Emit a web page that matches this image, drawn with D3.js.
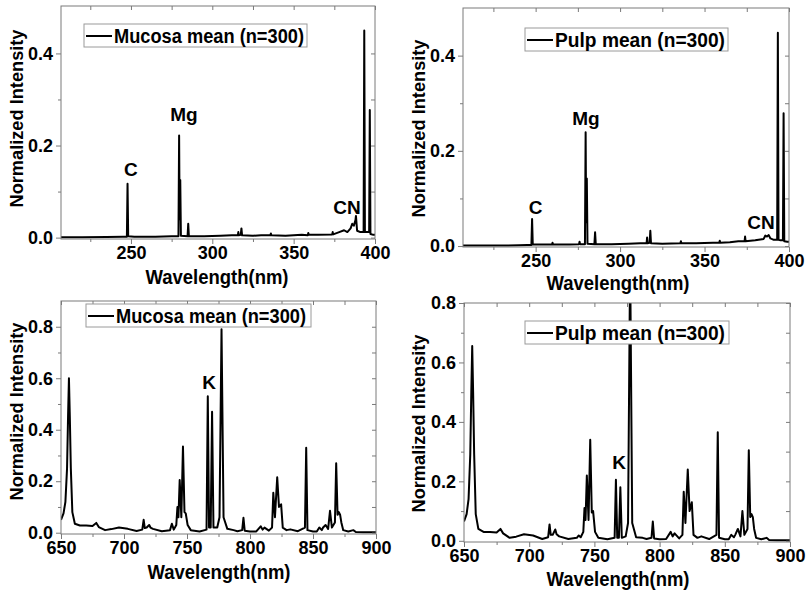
<!DOCTYPE html>
<html>
<head>
<meta charset="utf-8">
<script src="https://cdn.jsdelivr.net/npm/d3@7/dist/d3.min.js"></script>
<style>
  body { margin: 0; background: #fff; }
  svg { display: block; font-family: "Liberation Sans", Arial, sans-serif; font-weight: bold; }
</style>
</head>
<body>
<svg id="chart" width="808" height="590"></svg>
<script>
// ---- data ----
const mucosaUvWl = [207, 220, 235, 245, 247.5, 247.9, 248.3, 252, 265, 275, 279.2, 279.6, 279.9, 280.3, 280.7, 284.8, 285.2, 285.6,
  295, 305, 312, 315.7, 316, 316.3, 317.5, 317.9, 318.3, 325, 330, 335.7, 336, 336.3, 345, 355, 358.7, 359, 359.3, 365,
  373.7, 374, 374.3, 378, 381, 383, 385, 386, 387, 388, 388.3, 389, 391, 393, 393.4, 393.8, 395, 396.4, 396.8, 397.2, 399, 400];
const mucosaUvInt = [0.001, 0.001, 0.0015, 0.002, 0.002, 0.117, 0.003, 0.002, 0.002, 0.003, 0.003, 0.222, 0.04, 0.125, 0.004, 0.003, 0.03, 0.003,
  0.003, 0.004, 0.005, 0.005, 0.012, 0.005, 0.006, 0.02, 0.005, 0.004, 0.005, 0.005, 0.009, 0.005, 0.004, 0.006, 0.005, 0.01, 0.006, 0.006,
  0.007, 0.012, 0.007, 0.012, 0.016, 0.012, 0.02, 0.03, 0.026, 0.038, 0.047, 0.015, 0.012, 0.012, 0.45, 0.012, 0.012, 0.012, 0.277, 0.008, 0.006, 0.006];

const pulpUvWl = [207, 225, 240, 245, 247.5, 247.9, 248.3, 255, 259.7, 260, 260.3, 270, 275.7, 276, 276.3, 279.2, 279.6, 279.9, 280.3, 280.7,
  284.8, 285.2, 285.6, 295, 305, 312, 315.7, 316, 316.3, 317.5, 317.9, 318.3, 325, 335.7, 336, 336.3, 345, 355, 358.7, 359, 359.3, 365,
  370, 373.7, 374, 374.3, 380, 385, 386, 387, 388, 389, 391, 393, 393.4, 393.8, 395, 396.4, 396.8, 397.2, 399, 400];
const pulpUvInt = [0.001, 0.001, 0.0015, 0.002, 0.002, 0.057, 0.003, 0.003, 0.003, 0.007, 0.003, 0.003, 0.004, 0.009, 0.004, 0.004, 0.239, 0.05, 0.142, 0.005,
  0.004, 0.029, 0.004, 0.004, 0.005, 0.006, 0.006, 0.018, 0.006, 0.007, 0.032, 0.006, 0.005, 0.006, 0.01, 0.006, 0.006, 0.007, 0.007, 0.011, 0.007, 0.008,
  0.01, 0.01, 0.02, 0.01, 0.012, 0.015, 0.022, 0.02, 0.023, 0.016, 0.013, 0.013, 0.448, 0.013, 0.012, 0.012, 0.279, 0.01, 0.009, 0.009];

const mucosaVisWl = [650, 652, 653.5, 654.8, 655.6, 656.3, 657, 657.8, 659, 661, 665, 670, 675, 678, 680, 685, 690, 696, 703, 710,
  714.5, 715.6, 716.5, 718, 720, 721, 723, 730, 736.5, 738, 739.5, 741.5, 742.4, 743.2, 744.2, 745.5, 746.8, 748, 749, 750.5, 753,
  760, 765.5, 766.5, 767.5, 768.8, 769.9, 771, 774, 775.8, 777.4, 779, 782, 787, 790, 793.8, 794.8, 795.8, 800, 805, 808.5, 810, 811.5, 815,
  817.5, 818.5, 819.8, 821.6, 823, 824.7, 826, 829, 832, 838, 843.6, 844.6, 845.6, 850, 853, 855, 857, 858, 860, 862, 863.5, 865,
  867.4, 868.4, 869.5, 870.5, 871.5, 872.5, 874, 878, 882, 884, 890, 900];
const mucosaVisInt = [0.05, 0.075, 0.12, 0.25, 0.45, 0.6, 0.45, 0.25, 0.08, 0.035, 0.028, 0.028, 0.026, 0.038, 0.022, 0.01, 0.014, 0.02, 0.015, 0.007,
  0.012, 0.05, 0.018, 0.02, 0.03, 0.02, 0.015, 0.006, 0.01, 0.035, 0.012, 0.03, 0.1, 0.06, 0.205, 0.06, 0.335, 0.08, 0.075, 0.03, 0.01,
  0.005, 0.012, 0.53, 0.02, 0.02, 0.47, 0.02, 0.02, 0.06, 0.79, 0.06, 0.015, 0.01, 0.006, 0.01, 0.058, 0.008, 0.005, 0.005, 0.025, 0.012, 0.02, 0.008,
  0.02, 0.155, 0.06, 0.215, 0.1, 0.11, 0.02, 0.01, 0.013, 0.006, 0.02, 0.33, 0.01, 0.005, 0.005, 0.02, 0.01, 0.02, 0.03, 0.015, 0.085, 0.02,
  0.04, 0.27, 0.07, 0.08, 0.07, 0.04, 0.01, 0.005, 0.01, 0.003, 0.002, 0.002];

const pulpVisWl = [650, 652, 653.5, 654.8, 655.6, 656.3, 657, 657.8, 659, 661, 665, 670, 675, 678, 680, 685, 690, 696, 703, 710,
  714.5, 715.6, 716.5, 718, 720, 721, 723, 730, 736.5, 738, 739.5, 741.5, 742.4, 743.2, 744.2, 745.5, 746.8, 748, 749, 750.5, 753,
  760, 765.5, 766.5, 767.5, 768.8, 769.9, 771, 774, 775.8, 777.4, 779, 782, 787, 790, 793.8, 794.8, 795.8, 800, 805, 808.5, 810, 811.5, 815,
  817.5, 818.5, 819.8, 821.6, 823, 824.7, 826, 829, 832, 838, 843.6, 844.6, 845.6, 850, 853, 855, 857, 858, 860, 862, 863.5, 865,
  867.4, 868.4, 869.5, 870.5, 871.5, 872.5, 874, 878, 882, 884, 890, 900];
const pulpVisInt = [0.065, 0.09, 0.14, 0.29, 0.5, 0.655, 0.5, 0.29, 0.09, 0.04, 0.03, 0.03, 0.028, 0.04, 0.025, 0.01, 0.014, 0.022, 0.018, 0.006,
  0.012, 0.055, 0.02, 0.02, 0.038, 0.022, 0.015, 0.006, 0.01, 0.018, 0.012, 0.03, 0.11, 0.07, 0.22, 0.07, 0.34, 0.095, 0.1, 0.03, 0.01,
  0.005, 0.01, 0.205, 0.01, 0.01, 0.18, 0.01, 0.015, 0.06, 0.95, 0.06, 0.012, 0.01, 0.006, 0.01, 0.065, 0.008, 0.005, 0.006, 0.03, 0.015, 0.025, 0.008,
  0.02, 0.165, 0.06, 0.24, 0.1, 0.13, 0.02, 0.01, 0.015, 0.006, 0.02, 0.365, 0.01, 0.005, 0.005, 0.02, 0.012, 0.02, 0.04, 0.015, 0.1, 0.02,
  0.04, 0.305, 0.08, 0.09, 0.08, 0.04, 0.01, 0.005, 0.01, 0.003, 0.002, 0.002];

const uvTicks = [250, 300, 350, 400];
const uvMinor = [225, 275, 325, 375];
const visTicks = [650, 700, 750, 800, 850, 900];
const visMinor = [675, 725, 775, 825, 875];
const uvYTicks = [0.0, 0.2, 0.4];
const uvYMinor = [0.1, 0.3];
const visYTicks = [0.0, 0.2, 0.4, 0.6, 0.8];
const visYMinor = [0.1, 0.3, 0.5, 0.7];

const legendLabels = ["Mucosa mean (n=300)", "Pulp mean (n=300)", "Mucosa mean (n=300)", "Pulp mean (n=300)"];
const uvMucosaNotes = [["C", 250, 0.134], ["Mg", 282.6, 0.253], ["CN", 382.8, 0.051]];
const uvPulpNotes = [["C", 250, 0.067], ["Mg", 279.8, 0.255], ["CN", 383.4, 0.036]];
const visMucosaNotes = [["K", 767.5, 0.56]];
const visPulpNotes = [["K", 768.9, 0.242]];

// ---- layout ----
const panels = [
  { wl: mucosaUvWl, val: mucosaUvInt, l: 61, r: 375, t: 6, b: 239, xd: [207, 400], yd: [-0.003, 0.503],
    xt: uvTicks, xm: uvMinor, yt: uvYTicks, ym: uvYMinor, notes: uvMucosaNotes, legend: legendLabels[0],
    lg: [84, 24, 223, 190], xlab: [217, 284], ylab: [17, 118.5] },
  { wl: pulpUvWl, val: pulpUvInt, l: 463, r: 789, t: 8, b: 247, xd: [207, 400], yd: [-0.002, 0.5],
    xt: uvTicks, xm: uvMinor, yt: uvYTicks, ym: uvYMinor, notes: uvPulpNotes, legend: legendLabels[1],
    lg: [525, 28, 203, 170], xlab: [618, 290], ylab: [419, 128.5] },
  { wl: mucosaVisWl, val: mucosaVisInt, l: 61, r: 376, t: 301, b: 534, xd: [650, 900], yd: [-0.005, 0.9],
    xt: visTicks, xm: visMinor, yt: visYTicks, ym: visYMinor, notes: visMucosaNotes, legend: legendLabels[2],
    lg: [86, 304, 225, 190], xlab: [219, 579], ylab: [17, 411.5] },
  { wl: pulpVisWl, val: pulpVisInt, l: 464, r: 790, t: 303, b: 542, xd: [650, 900], yd: [-0.004, 0.8],
    xt: visTicks, xm: visMinor, yt: visYTicks, ym: visYMinor, notes: visPulpNotes, legend: legendLabels[3],
    lg: [525, 321, 204, 170], xlab: [618, 586], ylab: [419, 423.5] }
];

const svg = d3.select("#chart");
const frameColor = "#7a7a7a";

panels.forEach((p, i) => {
  const x = d3.scaleLinear().domain(p.xd).range([p.l, p.r]);
  const y = d3.scaleLinear().domain(p.yd).range([p.b, p.t]);
  const g = svg.append("g");

  g.append("clipPath").attr("id", "clip" + i)
    .append("rect").attr("x", p.l).attr("y", p.t).attr("width", p.r - p.l).attr("height", p.b - p.t);

  // spectrum
  const pts = p.wl.map((w, k) => [w, p.val[k]]);
  g.append("path")
    .datum(pts)
    .attr("clip-path", `url(#clip${i})`)
    .attr("fill", "none")
    .attr("stroke", "#000")
    .attr("stroke-width", 2)
    .attr("stroke-linejoin", "round")
    .attr("d", d3.line().x(d => x(d[0])).y(d => y(d[1])));

  // axes: bottom/left with labels (outward ticks), top/right mirrored inward
  const styleAxis = sel => {
    sel.select(".domain").remove();
    sel.selectAll("line").attr("stroke", frameColor);
    sel.selectAll("text").attr("fill", "#000").style("font-size", "18px").style("font-weight", "bold")
      .style("font-family", '"Liberation Sans", Arial, sans-serif');
  };
  g.append("g").attr("transform", `translate(0,${p.b})`)
    .call(d3.axisBottom(x).tickValues(p.xt).tickSize(5).tickPadding(2).tickFormat(d3.format("d")))
    .call(styleAxis)
    .selectAll("text").attr("dy", "0.72em");
  g.append("g").attr("transform", `translate(0,${p.b})`)
    .call(d3.axisBottom(x).tickValues(p.xm).tickSize(3).tickFormat(""))
    .call(styleAxis);
  g.append("g").attr("transform", `translate(${p.l},0)`)
    .call(d3.axisLeft(y).tickValues(p.yt).tickSize(5).tickPadding(3).tickFormat(d3.format(".1f")))
    .call(styleAxis);
  g.append("g").attr("transform", `translate(${p.l},0)`)
    .call(d3.axisLeft(y).tickValues(p.ym).tickSize(3).tickFormat(""))
    .call(styleAxis);
  g.append("g").attr("transform", `translate(0,${p.t})`)
    .call(d3.axisBottom(x).tickValues(p.xt.concat(p.xm)).tickSize(4).tickFormat(""))
    .call(styleAxis);
  g.append("g").attr("transform", `translate(${p.r},0)`)
    .call(d3.axisLeft(y).tickValues(p.yt.concat(p.ym)).tickSize(4).tickFormat(""))
    .call(styleAxis);

  // frame
  g.append("rect")
    .attr("x", p.l).attr("y", p.t).attr("width", p.r - p.l).attr("height", p.b - p.t)
    .attr("fill", "none").attr("stroke", frameColor).attr("stroke-width", 1);

  // peak labels
  p.notes.forEach(n => {
    g.append("text").attr("x", x(n[1])).attr("y", y(n[2]))
      .attr("text-anchor", "middle").style("font-size", "19px").text(n[0]);
  });

  // legend
  const [lx, ly, lw, tw] = p.lg;
  g.append("rect").attr("x", lx).attr("y", ly).attr("width", lw).attr("height", 23)
    .attr("fill", "#fff").attr("stroke", "#9a9a9a").attr("stroke-width", 1);
  g.append("line").attr("x1", lx + 2).attr("x2", lx + 28).attr("y1", ly + 12).attr("y2", ly + 12)
    .attr("stroke", "#000").attr("stroke-width", 2);
  g.append("text").attr("x", lx + 30).attr("y", ly + 19)
    .style("font-size", "19.5px")
    .attr("textLength", tw).attr("lengthAdjust", "spacingAndGlyphs")
    .text(p.legend);

  // axis titles
  g.append("text").attr("x", p.xlab[0]).attr("y", p.xlab[1])
    .attr("text-anchor", "middle").style("font-size", "20px")
    .attr("textLength", 143).attr("lengthAdjust", "spacingAndGlyphs")
    .text("Wavelength(nm)");
  g.append("text")
    .attr("transform", `translate(${p.ylab[0] + 6},${p.ylab[1]}) rotate(-90)`)
    .attr("text-anchor", "middle").style("font-size", "19px")
    .attr("textLength", 178).attr("lengthAdjust", "spacingAndGlyphs")
    .text("Normalized Intensity");
});
</script>
</body>
</html>
